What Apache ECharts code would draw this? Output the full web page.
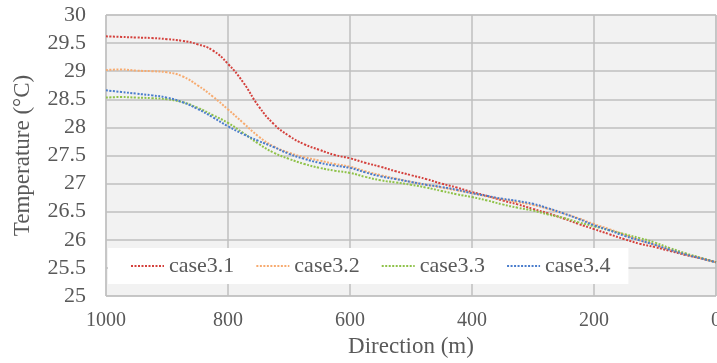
<!DOCTYPE html>
<html>
<head>
<meta charset="utf-8">
<script src="https://cdn.jsdelivr.net/npm/echarts@6/dist/echarts.min.js"></script>
<style>
  html, body { margin: 0; padding: 0; background: #fff; }
  #chart { width: 717px; height: 363px; }
</style>
</head>
<body>
<div id="chart"></div>
<script>
// distance along direction (m), read every 25 m
var distance = [1000, 975, 950, 925, 900, 875, 850, 825, 800, 775, 750, 725, 700, 675, 650, 625, 600,
    575, 550, 525, 500, 475, 450, 425, 400, 375, 350, 325, 300, 275, 250, 225, 200, 175, 150, 125, 100, 75, 50, 25, 0];

var case31 = [29.62, 29.61, 29.60, 29.59, 29.57, 29.54, 29.48, 29.37, 29.13, 28.80, 28.38, 28.06, 27.85, 27.70, 27.60, 27.51, 27.45,
    27.37, 27.30, 27.22, 27.15, 27.08, 27.00, 26.93, 26.85, 26.78, 26.70, 26.63, 26.55, 26.47, 26.38, 26.28, 26.19, 26.10, 26.01, 25.93, 25.87, 25.80, 25.73, 25.67, 25.60];
var case32 = [29.02, 29.03, 29.01, 29.00, 28.98, 28.91, 28.75, 28.55, 28.32, 28.08, 27.84, 27.66, 27.55, 27.47, 27.41, 27.35, 27.30,
    27.22, 27.15, 27.09, 27.03, 26.98, 26.93, 26.88, 26.83, 26.77, 26.72, 26.67, 26.62, 26.55, 26.47, 26.38, 26.28, 26.19, 26.09, 25.99, 25.91, 25.82, 25.74, 25.67, 25.60];
var case33 = [28.53, 28.54, 28.53, 28.52, 28.50, 28.45, 28.35, 28.22, 28.08, 27.90, 27.71, 27.55, 27.44, 27.35, 27.28, 27.23, 27.19,
    27.12, 27.06, 27.02, 26.98, 26.93, 26.87, 26.81, 26.76, 26.70, 26.63, 26.57, 26.52, 26.45, 26.39, 26.31, 26.24, 26.17, 26.10, 26.03, 25.95, 25.85, 25.76, 25.68, 25.60];
var case34 = [28.66, 28.63, 28.60, 28.57, 28.53, 28.45, 28.33, 28.18, 28.02, 27.88, 27.76, 27.65, 27.53, 27.44, 27.37, 27.32, 27.28,
    27.20, 27.13, 27.08, 27.03, 26.98, 26.94, 26.89, 26.83, 26.78, 26.73, 26.69, 26.64, 26.56, 26.47, 26.37, 26.26, 26.17, 26.07, 25.99, 25.91, 25.82, 25.74, 25.67, 25.60];

var seriesNames = ['case3.1', 'case3.2', 'case3.3', 'case3.4'];
var seriesValues = [case31, case32, case33, case34];
var seriesColors = ['#d4403c', '#f7ab70', '#8fc24a', '#4a7dcc'];

var font = "'Liberation Serif', 'Times New Roman', serif";
var textColor = '#595959';

function pairs(vals) {
    var out = [];
    for (var i = 0; i < distance.length; i++) {
        out.push([distance[i], vals[i]]);
    }
    return out;
}

var series = [];
for (var i = 0; i < seriesNames.length; i++) {
    series.push({
        name: seriesNames[i],
        type: 'line',
        symbol: 'none',
        showSymbol: false,
        smooth: true,
        color: seriesColors[i],
        lineStyle: { width: 2, type: [2, 1.5], color: seriesColors[i] },
        data: pairs(seriesValues[i])
    });
}

var myChart = echarts.init(document.getElementById('chart'));
myChart.setOption({
    animation: false,
    textStyle: { fontFamily: font },
    grid: {
        left: 106, right: 1, top: 15, bottom: 67,
        containLabel: false,
        outerBoundsMode: 'none',
        show: true,
        backgroundColor: '#f2f2f2',
        borderColor: '#bfbfbf',
        borderWidth: 1
    },
    legend: {
        left: 108,
        top: 248,
        padding: [7, 18, 7, 22],
        itemGap: 21,
        itemWidth: 33,
        itemHeight: 14,
        backgroundColor: '#ffffff',
        itemStyle: { color: 'transparent', borderWidth: 0 },
        lineStyle: { width: 2, type: [2, 1.5] },
        textStyle: { fontFamily: font, fontSize: 22, color: textColor },
        data: seriesNames
    },
    xAxis: {
        type: 'value',
        inverse: true,
        min: 0,
        max: 1000,
        interval: 200,
        name: 'Direction (m)',
        nameLocation: 'middle',
        nameGap: 38,
        nameTextStyle: { fontFamily: font, fontSize: 23, color: textColor },
        axisLine: { show: false },
        axisTick: { show: false },
        axisLabel: {
            margin: 15, fontFamily: font, fontSize: 20, color: textColor,
            formatter: function (v) { return String(v); }
        },
        splitLine: { show: true, lineStyle: { color: '#bfbfbf', width: 1.5 } }
    },
    yAxis: {
        type: 'value',
        min: 25,
        max: 30,
        interval: 0.5,
        name: 'Temperature (°C)',
        nameLocation: 'middle',
        nameGap: 72,
        nameRotate: 90,
        nameTextStyle: { fontFamily: font, fontSize: 23, color: textColor },
        axisLine: { show: false },
        axisTick: { show: false },
        axisLabel: {
            margin: 20, fontFamily: font, fontSize: 22, color: textColor,
            formatter: function (v) { return String(v); }
        },
        splitLine: { show: true, lineStyle: { color: '#bfbfbf', width: 1.5 } }
    },
    series: series
});
</script>
</body>
</html>
